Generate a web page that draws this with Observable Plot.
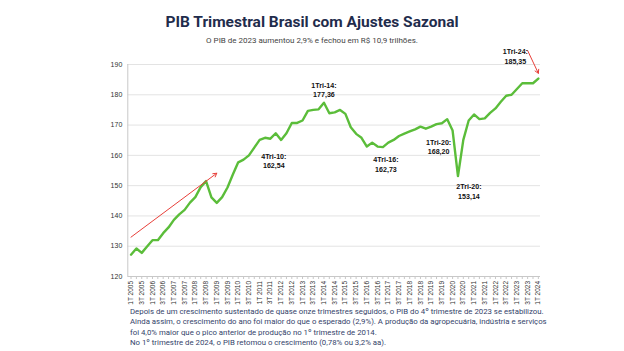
<!DOCTYPE html>
<html><head><meta charset="utf-8">
<script src="https://cdn.jsdelivr.net/npm/d3@7"></script>
<script src="https://cdn.jsdelivr.net/npm/@observablehq/plot@0.6"></script>
<style>
body{margin:0;background:#fff;width:624px;height:351px;overflow:hidden;font-family:Roboto,sans-serif;position:relative}
#title{position:absolute;top:12px;left:0;width:624px;text-align:center;font-weight:700;font-size:15.5px;color:#1f2c4c;line-height:20px}
#subtitle{position:absolute;top:35px;left:0;width:624px;text-align:center;font-size:8px;color:#444;line-height:12px}
#chart{position:absolute;top:40px;left:0}
#note{position:absolute;top:307px;left:130px;font-size:7.8px;line-height:10.3px;color:#34436a;white-space:nowrap}
</style></head>
<body>
<div id="title">PIB Trimestral Brasil com Ajustes Sazonal</div>
<div id="subtitle">O PIB de 2023 aumentou 2,9% e fechou em R$ 10,9 trilhões.</div>
<div id="chart"></div>
<div id="note">Depois de um crescimento sustentado de quase onze trimestres seguidos, o PIB do 4º trimestre de 2023 se estabilizou.<br>Ainda assim, o crescimento do ano foi maior do que o esperado (2,9%). A produção da agropecuária, indústria e serviços<br>foi 4,0% maior que o pico anterior de produção no 1º trimestre de 2014.<br>No 1º trimestre de 2024, o PIB retomou o crescimento (0,78% ou 3,2% aa).</div>
<script>
// Quarter labels 1T 2005 ... 1T 2024
const years = d3.range(2005, 2025);
const quarterLabels = [];
for (const y of years) for (const q of [1, 2, 3, 4]) if (y < 2024 || q === 1) quarterLabels.push(q + "T " + y);

// GDP index, seasonally adjusted
const gdp = [
  127.2, 129.25, 127.8, 129.9,
  132.0, 132.0, 134.3, 136.2,
  138.7, 140.5, 142.0, 144.4,
  146.2, 149.5, 151.5, 146.1,
  144.3, 146.2, 149.4, 153.7,
  157.7, 158.6, 160.0, 162.54,
  165.1, 165.8, 165.5, 167.3,
  165.1, 167.3, 170.7, 170.7,
  171.5, 174.7, 175.0, 175.2,
  177.36, 173.9, 174.2, 175.0,
  173.7, 169.3, 167.1, 165.8,
  162.9, 164.2, 162.9, 162.73,
  164.2, 165.1, 166.4, 167.2,
  167.9, 168.6, 169.5, 168.8,
  169.5, 170.3, 170.6, 171.95,
  168.20, 153.14, 165.1, 171.5,
  173.5, 171.95, 172.2, 174.0,
  175.5, 177.7, 179.7, 180.0,
  181.9, 183.8, 183.8, 183.8,
  185.35
];
const yTicks = [120, 130, 140, 150, 160, 170, 180, 190];

const annotations = [
  {quarter: "4T 2010", value: 162.54, label: "4Tri-10:\n162,54"},
  {quarter: "1T 2014", value: 177.36, label: "1Tri-14:\n177,36"},
  {quarter: "4T 2016", value: 162.73, label: "4Tri-16:\n162,73"},
  {quarter: "1T 2020", value: 168.20, label: "1Tri-20:\n168,20"},
  {quarter: "2T 2020", value: 153.14, label: "2Tri-20:\n153,14"},
  {quarter: "1T 2024", value: 185.35, label: "1Tri-24:\n185,35"}
];
const annOffsets = [[19.5, 13], [0, -13], [3, 17], [-14, 16], [11, 15], [-23, -22.5]];

const arrows = [
  {from: "1T 2005", fromValue: 133.0, to: "1T 2009", toValue: 154.1},
  {from: "3T 2023", fromValue: 194.6, to: "1T 2024", toValue: 187.1}
];

const idx = q => quarterLabels.indexOf(q);
const data = quarterLabels.map((q, i) => ({i, q, v: gdp[i]}));
const green = "#5bbd3a";
const xDomain = [-0.6, quarterLabels.length - 1 + 0.4];

const annMarks = annotations.map((a, k) => Plot.text([a], {
  x: d => idx(d.quarter), y: "value", text: "label",
  dx: annOffsets[k][0], dy: annOffsets[k][1],
  fontWeight: "bold", fontSize: 7.1, lineHeight: 1.3, fill: "#111",
  fontFamily: "Liberation Sans, Arial, sans-serif"
}));

const chart = Plot.plot({
  width: 624, height: 267,
  marginTop: 24, marginBottom: 31, marginLeft: 127.3, marginRight: 84,
  style: {fontFamily: "Liberation Sans, Arial, sans-serif", background: "transparent"},
  x: {domain: xDomain, axis: null, label: null},
  y: {domain: [120, 190], axis: null, label: null},
  marks: [
    Plot.gridY(yTicks.slice(1), {stroke: "#e3e3e3", strokeOpacity: 1}),
    Plot.ruleX([xDomain[0]], {stroke: "#c8c8c8"}),
    Plot.ruleY([yTicks[0]], {stroke: "#c8c8c8"}),
    Plot.axisY(yTicks, {tickSize: 0, tickPadding: 5.5, fontSize: 7, fill: "#333", label: null}),
    Plot.axisX(d3.range(quarterLabels.length), {
      tickFormat: i => i % 2 === 0 ? quarterLabels[i] : "",
      tickRotate: -90, tickSize: 3, tickPadding: 1.5, fontSize: 6.5,
      stroke: "#c8c8c8", fill: "#333", label: null
    }),
    Plot.line(data, {x: "i", y: "v", stroke: green, strokeWidth: 2.4}),
    Plot.dot(data, {x: "i", y: "v", symbol: "plus", r: 3.7, fill: green, stroke: "none"}),
    Plot.arrow(arrows, {
      x1: d => idx(d.from), y1: "fromValue", x2: d => idx(d.to), y2: "toValue",
      stroke: "#e8403a", strokeWidth: 1, headLength: 6, bend: 0
    }),
    ...annMarks
  ]
});
document.getElementById("chart").appendChild(chart);
</script>
</body></html>
